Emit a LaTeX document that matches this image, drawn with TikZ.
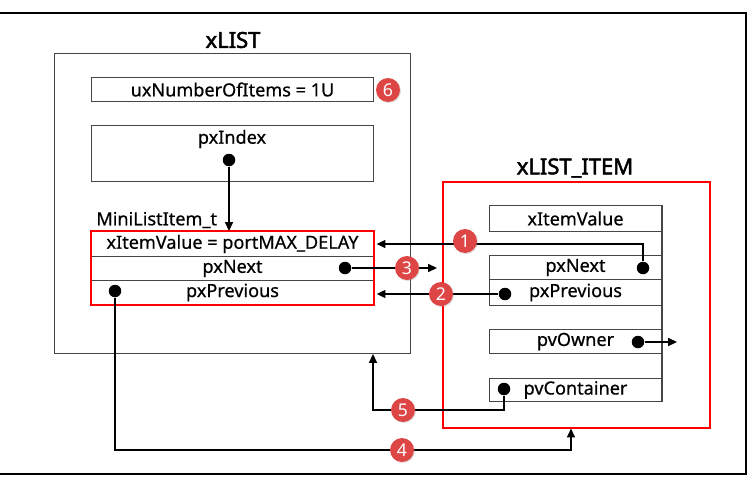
\documentclass[tikz,border=0pt]{standalone}
\usepackage{fontspec}
\setmainfont{Noto Sans}
\newfontfamily\titlefont{Noto Sans}[FakeBold=2.2]
\usetikzlibrary{arrows.meta,shadows}
\definecolor{badgered}{RGB}{222,70,70}
\definecolor{boxgray}{RGB}{70,70,70}

\begin{document}
\begin{tikzpicture}[x = 0.02cm, y = -0.02cm, font = \fontsize{10.3}{12}\selectfont\addfontfeature{FakeBold=0.6},
  box/.style = {draw = boxgray, line width = 0.6pt, inner sep = 0pt, anchor = north west},
  redbox/.style = {draw = red, line width = 0.9pt, inner sep = 0pt, anchor = north west},
  title/.style = {font = \titlefont\fontsize{12.5}{14}\selectfont},
  dot/.style = {circle, fill = black, inner sep = 0pt, minimum size = 12.5*0.02cm},
  badge/.style = {circle, fill = badgered, text = white, inner sep = 0pt, minimum size = 0.48cm,
    font = \fontsize{10}{12}\selectfont, drop shadow = {shadow xshift = 0.6pt, shadow yshift = -0.6pt, opacity = 0.25}},
  link/.style = {line width = 0.9pt, -{Triangle[length = 5pt, width = 4.5pt]}},
  plain/.style = {line width = 0.9pt}]
\useasboundingbox (0, 0) rectangle (755, 484);
% Frame
\draw[line width = 1.3pt] (0, 13) -- (746, 13) -- (746, 474) -- (0, 474);

% xLIST
\node[title] (listtitle) at (233, 40) {xLIST};
\node[box, minimum width = 7.12cm, minimum height = 6cm] (xlist) at (54, 53) {};
\node[box, minimum width = 5.64cm, minimum height = 0.48cm] (count) at (91, 77) {uxNumberOfItems = 1U};
\node[box, minimum width = 5.64cm, minimum height = 1.12cm] (index) at (91, 125) {};
\node (indextext) at (232, 139) {pxIndex};
\node[anchor = west, inner sep = 0pt] (minititle) at (96, 220) {MiniListItem\_t};
\node[box, minimum width = 5.64cm, minimum height = 0.5cm] (minivalue) at (91, 231) {xItemValue = portMAX\_DELAY};
\node[box, minimum width = 5.64cm, minimum height = 0.48cm] (mininext) at (91, 256) {pxNext};
\node[box, minimum width = 5.64cm, minimum height = 0.48cm] (miniprev) at (91, 280) {pxPrevious};
\draw[red, line width = 0.9pt] (minivalue.north west) rectangle (miniprev.south east);

% xLIST_ITEM
\node[title] (itemtitle) at (575, 168) {xLIST\_ITEM};
\node[redbox, minimum width = 5.34cm, minimum height = 4.92cm] (item) at (442, 181) {};
\node[box, minimum width = 3.44cm, minimum height = 0.52cm] (itemvalue) at (489, 205) {xItemValue};
\node[box, minimum width = 3.44cm, minimum height = 0.48cm] (itemnext) at (489, 255) {pxNext};
\node[box, minimum width = 3.44cm, minimum height = 0.52cm] (itemprev) at (489, 279) {pxPrevious};
\node[box, minimum width = 3.44cm, minimum height = 0.48cm] (owner) at (489, 329) {pvOwner};
\node[box, minimum width = 3.44cm, minimum height = 0.46cm] (container) at (489, 378) {pvContainer};
\draw[boxgray, line width = 0.6pt] (itemvalue.north east) -- (container.south east);

% Pointer dots
\node[dot] (indexdot) at (229, 160) {};
\node[dot] (mininextdot) at (345, 268) {};
\node[dot] (miniprevdot) at (115, 291) {};
\node[dot] (itemnextdot) at (643, 268) {};
\node[dot] (itemprevdot) at (505, 294) {};
\node[dot] (ownerdot) at (638, 342) {};
\node[dot] (containerdot) at (504, 389) {};
\coordinate (nextend) at (437, 268);
\coordinate (ownerend) at (677, 342);
\coordinate (prevturn) at (571, 450);
\coordinate (containerturn) at (373, 410);

% Links
\draw[link] (indexdot) -- (indexdot |- minivalue.north);
\draw[link, shorten > = 1.5pt] (itemnextdot) |- (minivalue.east);
\draw[link, shorten > = 1.5pt] (itemprevdot) -- (itemprevdot -| miniprev.east);
\draw[link] (mininextdot) -- (nextend);
\draw[link] (miniprevdot) |- (prevturn) -- (prevturn |- item.south);
\draw[link] (containerdot) |- (containerturn) -- (containerturn |- xlist.south);
\draw[link] (ownerdot) -- (ownerend);

% Step badges
\node[badge] (step1) at (465, 241) {1};
\node[badge] (step2) at (441, 294) {2};
\node[badge] (step3) at (407, 268) {3};
\node[badge] (step4) at (402, 450) {4};
\node[badge] (step5) at (403, 410) {5};
\node[badge] (step6) at (388, 90) {6};
\end{tikzpicture}
\end{document}
